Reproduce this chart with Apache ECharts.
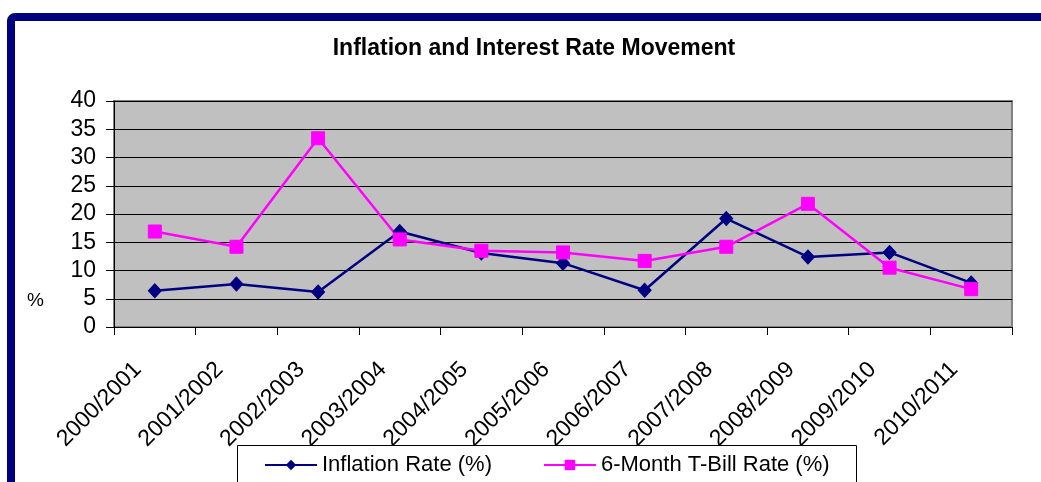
<!DOCTYPE html>
<html>
<head>
<meta charset="utf-8">
<script src="https://cdn.jsdelivr.net/npm/echarts@6/dist/echarts.min.js"></script>
<style>
html,body{margin:0;padding:0;background:#fff;}
#chart{width:1041px;height:482px;}
</style>
</head>
<body>
<div id="chart"></div>
<script>
const categories = ['2000/2001','2001/2002','2002/2003','2003/2004','2004/2005','2005/2006','2006/2007','2007/2008','2008/2009','2009/2010','2010/2011'];
const inflationRate = [6.4, 7.6, 6.2, 16.9, 13.1, 11.3, 6.5, 19.2, 12.4, 13.2, 7.8];
const tBillRate = [16.9, 14.2, 33.4, 15.5, 13.5, 13.2, 11.7, 14.2, 21.8, 10.5, 6.7];
const yTicks = [0, 5, 10, 15, 20, 25, 30, 35, 40];

const FONT = 'Liberation Sans, Arial, sans-serif';
const chart = echarts.init(document.getElementById('chart'), null, {renderer: 'canvas'});
chart.setOption({
  backgroundColor: '#fff',
  animation: false,
  title: {
    text: 'Inflation and Interest Rate Movement',
    left: 529, top: 32, textAlign: 'center',
    textStyle: {fontFamily: FONT, fontSize: 23, fontWeight: 'bold', color: '#000'}
  },
  graphic: [
    {type: 'rect', shape: {x: 11, y: 17, width: 1100, height: 600, r: 4}, style: {fill: 'none', stroke: '#000080', lineWidth: 8}, z: 100},
    {type: 'rect', shape: {x: 237.5, y: 445.5, width: 619, height: 80}, style: {fill: '#fff', stroke: '#000', lineWidth: 1}, z: 1},
    {type: 'text', left: 27, top: 291, style: {text: '%', font: '19px ' + FONT, fill: '#000'}, z: 10}
  ],
  legend: {
    left: 264, top: 454, padding: 0, itemGap: 51, itemWidth: 52, itemHeight: 13,
    textStyle: {fontFamily: FONT, fontSize: 22, color: '#000'},
    data: ['Inflation Rate (%)', '6-Month T-Bill Rate (%)'],
    z: 5
  },
  grid: {
    left: 114, right: 29, top: 101, bottom: 155,
    show: true, backgroundColor: '#c0c0c0', borderColor: '#808080', borderWidth: 2
  },
  xAxis: {
    type: 'category', data: categories, boundaryGap: true,
    axisLine: {show: true, lineStyle: {color: '#000', width: 1}},
    axisTick: {show: true, length: 8, inside: false, lineStyle: {color: '#000'}},
    axisLabel: {rotate: 45, margin: 22, padding: [0, 24, 0, 0], fontFamily: FONT, fontSize: 23, color: '#000', interval: 0}
  },
  yAxis: {
    type: 'value', min: yTicks[0], max: yTicks[yTicks.length - 1], interval: 5,
    axisLine: {show: true, lineStyle: {color: '#000', width: 1}},
    axisTick: {show: true, length: 8, lineStyle: {color: '#000'}},
    axisLabel: {margin: 18, fontFamily: FONT, fontSize: 23, color: '#000'},
    splitLine: {show: true, lineStyle: {color: '#000', width: 1}}
  },
  series: [
    {
      name: 'Inflation Rate (%)', type: 'line', data: inflationRate,
      symbol: 'diamond', symbolSize: [13, 14], showAllSymbol: true,
      lineStyle: {color: '#000080', width: 2.5},
      itemStyle: {color: '#000080', borderColor: '#000080'}
    },
    {
      name: '6-Month T-Bill Rate (%)', type: 'line', data: tBillRate,
      symbol: 'rect', symbolSize: 13, showAllSymbol: true,
      lineStyle: {color: '#ff00ff', width: 2.5},
      itemStyle: {color: '#ff00ff', borderColor: '#ff00ff'}
    }
  ]
});
</script>
</body>
</html>
